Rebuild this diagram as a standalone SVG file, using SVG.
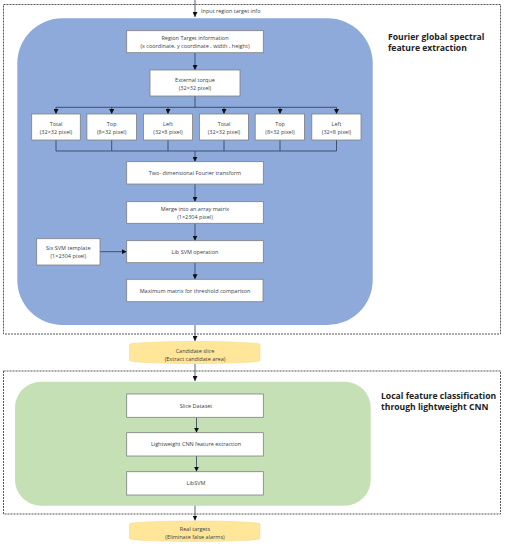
<svg xmlns="http://www.w3.org/2000/svg" width="505" height="550" viewBox="0 0 505 550">
<defs>
<marker id="ah" viewBox="0 0 10 10" refX="10" refY="5" markerWidth="5" markerHeight="5" orient="auto" markerUnits="userSpaceOnUse">
<path d="M0,0 L10,5 L0,10 z" fill="#111"/>
</marker>
<style>
.box{fill:#fff;stroke:#7f7f7f;stroke-width:0.8}
.t{font-family:"Open Sans","Noto Sans",sans-serif;font-size:5.5px;fill:#404040;text-anchor:middle}
.ti{font-family:"Open Sans","Noto Sans",sans-serif;font-size:8.6px;font-weight:bold;fill:#222}
.dash{fill:none;stroke:#444;stroke-width:0.9;stroke-dasharray:2,1}
.c{fill:none;stroke:#2b3a55;stroke-width:0.8}
.ca{fill:none;stroke:#2b3a55;stroke-width:0.8;marker-end:url(#ah)}
.cyl{fill:#FFE699;stroke:#F5D77E;stroke-width:0.5}
</style>
</defs>
<g id="frame1"><rect class="dash" x="3.5" y="4.5" width="497" height="329.5"/></g>
<g id="frame2"><rect class="dash" x="3.5" y="371" width="497" height="143"/></g>
<g id="blue-panel"><rect x="17.3" y="18.3" width="355.4" height="306.7" rx="45" fill="#8EAADB"/></g>
<g id="green-panel"><rect x="15" y="381.7" width="355.7" height="124" rx="26" fill="#C5E0B4"/></g>
<g id="title1"><text class="ti" x="388" y="39.5">Fourier global spectral</text><text class="ti" x="388" y="50.5">feature extraction</text></g>
<g id="title2"><text class="ti" x="381" y="399">Local feature classification</text><text class="ti" x="381" y="410">through lightweight CNN</text></g>

<g id="connectors">
<line class="ca" x1="195" y1="0" x2="195" y2="17"/>
<line class="ca" x1="195" y1="52.7" x2="195" y2="70"/>
<polyline class="c" points="195,96 195,107.3"/>
<line class="c" x1="56" y1="107.3" x2="336.5" y2="107.3"/>
<line class="ca" x1="56" y1="107.3" x2="56" y2="114"/>
<line class="ca" x1="111.7" y1="107.3" x2="111.7" y2="114"/>
<line class="ca" x1="168" y1="107.3" x2="168" y2="114"/>
<line class="ca" x1="224" y1="107.3" x2="224" y2="114"/>
<line class="ca" x1="280" y1="107.3" x2="280" y2="114"/>
<line class="ca" x1="336.5" y1="107.3" x2="336.5" y2="114"/>
<line class="c" x1="56" y1="140" x2="56" y2="151"/>
<line class="c" x1="111.7" y1="140" x2="111.7" y2="151"/>
<line class="c" x1="168" y1="140" x2="168" y2="151"/>
<line class="c" x1="224" y1="140" x2="224" y2="151"/>
<line class="c" x1="280" y1="140" x2="280" y2="151"/>
<line class="c" x1="336.5" y1="140" x2="336.5" y2="151"/>
<line class="c" x1="56" y1="151" x2="336.5" y2="151"/>
<line class="ca" x1="195" y1="151" x2="195" y2="161.7"/>
<line class="ca" x1="195" y1="184" x2="195" y2="201.7"/>
<line class="ca" x1="195" y1="223.3" x2="195" y2="240.7"/>
<line class="ca" x1="100" y1="251.7" x2="126.7" y2="251.7"/>
<line class="ca" x1="195" y1="262.7" x2="195" y2="279.3"/>
<line class="ca" x1="195" y1="325" x2="195" y2="341"/>
<line class="ca" x1="195" y1="364" x2="195" y2="381"/>
<line class="ca" x1="196.5" y1="417.3" x2="196.5" y2="432.7"/>
<line class="ca" x1="196.5" y1="456" x2="196.5" y2="471.7"/>
<line class="ca" x1="195" y1="505.7" x2="195" y2="520.5"/>
</g>
<text class="t" x="201" y="13" style="text-anchor:start">Input region target info</text>

<g id="region-target"><rect class="box" x="126.7" y="30.7" width="136.6" height="22"/><text class="t" x="195" y="40">Region Target information</text><text class="t" x="195" y="48">(x coordinate, y coordinate , width , height)</text></g>
<g id="external-torque"><rect class="box" x="150" y="70" width="90" height="26"/><text class="t" x="195" y="81.5">External torque</text><text class="t" x="195" y="89.5">(32×32 pixel)</text></g>

<g id="total1"><rect class="box" x="31.7" y="114" width="48.6" height="26"/><text class="t" x="56" y="126">Total</text><text class="t" x="56" y="134">(32×32 pixel)</text></g>
<g id="top1"><rect class="box" x="86.9" y="114" width="49.6" height="26"/><text class="t" x="111.7" y="126">Top</text><text class="t" x="111.7" y="134">(8×32 pixel)</text></g>
<g id="left1"><rect class="box" x="143.4" y="114" width="49.2" height="26"/><text class="t" x="168" y="126">Left</text><text class="t" x="168" y="134">(32×8 pixel)</text></g>
<g id="total2"><rect class="box" x="199.4" y="114" width="49" height="26"/><text class="t" x="224" y="126">Total</text><text class="t" x="224" y="134">(32×32 pixel)</text></g>
<g id="top2"><rect class="box" x="255.2" y="114" width="49.2" height="26"/><text class="t" x="280" y="126">Top</text><text class="t" x="280" y="134">(8×32 pixel)</text></g>
<g id="left2"><rect class="box" x="311.8" y="114" width="49.2" height="26"/><text class="t" x="336.5" y="126">Left</text><text class="t" x="336.5" y="134">(32×8 pixel)</text></g>

<g id="fourier"><rect class="box" x="126.7" y="161.7" width="136.6" height="22.3"/><text class="t" x="195" y="175">Two- dimensional Fourier transform</text></g>
<g id="merge"><rect class="box" x="126.7" y="201.7" width="136.6" height="21.6"/><text class="t" x="195" y="211">Merge into an array matrix</text><text class="t" x="195" y="219">(1×2304 pixel)</text></g>
<g id="libsvm-op"><rect class="box" x="126.7" y="240.7" width="136.6" height="22"/><text class="t" x="195" y="253.5">Lib SVM operation</text></g>
<g id="six-svm"><rect class="box" x="36.7" y="238.7" width="63.3" height="26.3"/><text class="t" x="68.3" y="250">Six SVM template</text><text class="t" x="68.3" y="258">(1×2304 pixel)</text></g>
<g id="max-matrix"><rect class="box" x="126.7" y="279.3" width="136.3" height="22.4"/><text class="t" x="195" y="292.5">Maximum matrix for threshold comparison</text></g>

<g id="candidate"><path class="cyl" d="M129.5,344.5 A65.2,3 0 0,1 260,344.5 V360.5 A65.2,3 0 0,1 129.5,360.5 Z"/><text class="t" x="195" y="353">Candidate slice</text><text class="t" x="195" y="361">(Extract candidate area)</text></g>

<g id="slice-dataset"><rect class="box" x="126.7" y="394" width="136.6" height="23.3"/><text class="t" x="196" y="407.5">Slice Dataset</text></g>
<g id="cnn"><rect class="box" x="126.7" y="432.7" width="136.6" height="23.3"/><text class="t" x="196" y="446">Lightweight CNN feature extraction</text></g>
<g id="libsvm"><rect class="box" x="126.7" y="471.7" width="136.6" height="23.3"/><text class="t" x="196" y="485">LibSVM</text></g>

<g id="real-targets"><path class="cyl" d="M129.5,524 A65.2,3 0 0,1 260,524 V538.5 A65.2,3 0 0,1 129.5,538.5 Z"/><text class="t" x="195" y="531">Real targets</text><text class="t" x="195" y="539">(Eliminate false alarms)</text></g>
</svg>
